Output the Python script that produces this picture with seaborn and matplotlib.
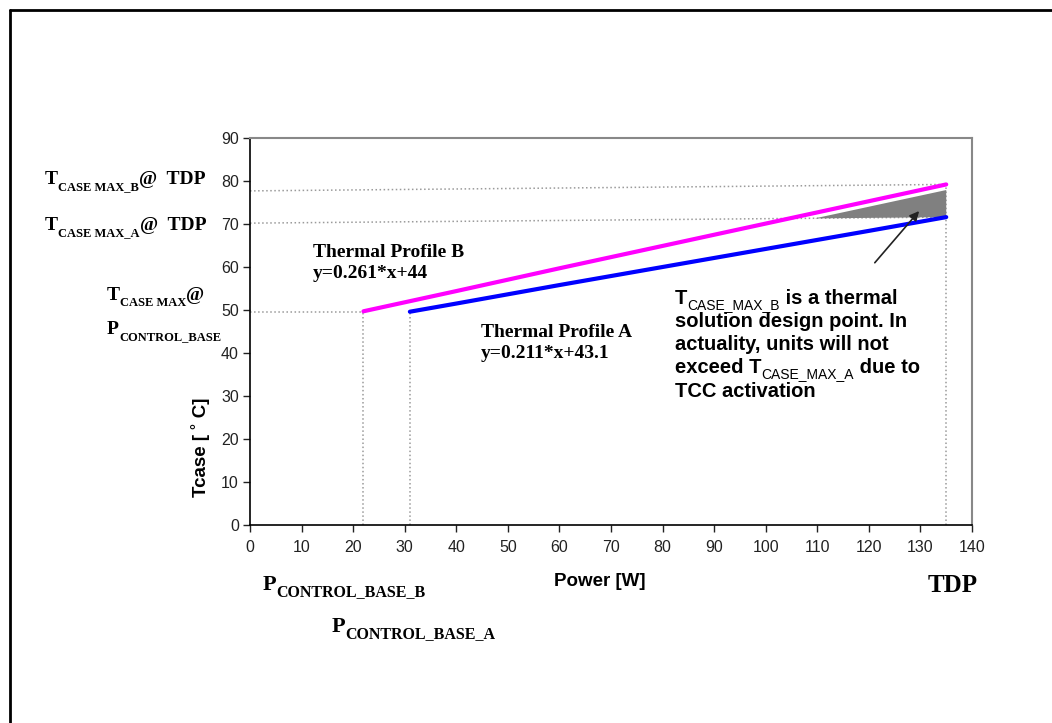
import numpy as np
import pandas as pd
import seaborn as sns
import matplotlib.pyplot as plt
from matplotlib.lines import Line2D

power_b = [22, 40, 60, 80, 100, 120, 135]
tcase_b = [49.7, 54.4, 59.7, 64.9, 70.1, 75.3, 79.2]
power_a = [31, 40, 60, 80, 100, 120, 135]
tcase_a = [49.6, 51.5, 55.8, 60.0, 64.2, 68.4, 71.6]

x_ticks = list(range(0, 141, 10))
y_ticks = list(range(0, 91, 10))

tdp = 135
p_base_b = 22
p_base_a = 31
t_base = 49.6
tmax_b_line = ([0, 135], [77.7, 79.2])
tmax_a_line = ([0, 135], [70.2, 71.6])
shade_x = [109.5, 135, 135]
shade_y = [71.3, 77.9, 71.6]

sns.set_theme(style='white')
plt.rcParams['font.family'] = ['Liberation Sans', 'DejaVu Sans']
plt.rcParams['text.color'] = 'black'

W, H = 1052, 723
fig = plt.figure(figsize=(W / 100, H / 100), dpi=100)
ax = fig.add_axes([250 / W, 1 - 525 / H, 722 / W, 387 / H])


def px(x, y):
    return x / W, 1 - y / H


df = pd.concat([
    pd.DataFrame({'Power': power_b, 'Tcase': tcase_b, 'profile': 'B'}),
    pd.DataFrame({'Power': power_a, 'Tcase': tcase_a, 'profile': 'A'}),
])
sns.lineplot(data=df, x='Power', y='Tcase', hue='profile',
             palette={'B': '#ff00ff', 'A': '#0000ff'}, linewidth=3,
             legend=False, ax=ax, zorder=4)

dot = dict(color='#9a9a9a', linestyle=':', linewidth=1.1, zorder=2)
ax.plot(*tmax_b_line, **dot)
ax.plot(*tmax_a_line, **dot)
ax.plot([0, p_base_b], [t_base, t_base], **dot)
ax.plot([p_base_b, p_base_b], [0, t_base], **dot)
ax.plot([p_base_a, p_base_a], [0, t_base], **dot)
ax.plot([tdp, tdp], [0, tcase_b[-1]], **dot)

ax.fill(shade_x, shade_y, color='#808080', zorder=3, lw=0)

ax.annotate('', xy=(130.1, 73.5), xytext=(120.8, 60.5),
            arrowprops=dict(arrowstyle='-|>', color='#222222', lw=1.2,
                            mutation_scale=14), zorder=5)

ax.set_xlim(0, 140)
ax.set_ylim(0, 90)
ax.set_xticks(x_ticks)
ax.set_yticks(y_ticks)
ax.set_xlabel('')
ax.set_ylabel('')
ax.tick_params(axis='both', direction='out', length=5, width=1,
               labelsize=11.5, colors='#222222', bottom=True, left=True)
ax.tick_params(axis='x', pad=6)
ax.tick_params(axis='y', pad=3)
for side in ['left', 'bottom']:
    ax.spines[side].set_color('black')
    ax.spines[side].set_linewidth(1.2)
for side in ['top', 'right']:
    ax.spines[side].set_color('#888888')
    ax.spines[side].set_linewidth(1.5)

fig.text(*px(600, 581), 'Power [W]', ha='center', va='center',
         fontsize=13.5, weight='bold')
fig.text(*px(200, 447), 'Tcase [ ˚ C]', ha='center', va='center',
         fontsize=13.5, weight='bold', rotation=90)


def chain(x, y, parts, family):
    # parts: (text, size, drop in points, weight)
    first = ax.text(*px(x, y), parts[0][0], transform=fig.transFigure,
                    fontsize=parts[0][1], family=family, weight=parts[0][3],
                    va='baseline', ha='left', clip_on=False)
    prev = first
    for s, size, dy, w in parts[1:]:
        prev = ax.annotate(s, xy=(1, 0), xycoords=(prev, first),
                           xytext=(0, -dy), textcoords='offset points',
                           fontsize=size, family=family, weight=w,
                           va='bottom', ha='left', annotation_clip=False)
    return first


serif = ['Liberation Serif', 'DejaVu Serif']
sans = ['Liberation Sans', 'DejaVu Sans']

chain(45, 184, [('T', 14, 0, 'bold'), ('CASE MAX_B', 9, 3.5, 'bold'),
                ('@  TDP', 14, 0, 'bold')], serif)
chain(45, 230, [('T', 14, 0, 'bold'), ('CASE MAX_A', 9, 3.5, 'bold'),
                ('@  TDP', 14, 0, 'bold')], serif)
chain(107, 300, [('T', 14, 0, 'bold'), ('CASE MAX', 9, 3.5, 'bold'),
                 ('@', 14, 0, 'bold')], serif)
chain(107, 334, [('P', 14, 0, 'bold'), ('CONTROL_BASE', 9, 3.5, 'bold')], serif)

chain(263, 590, [('P', 16, 0, 'bold'), ('CONTROL_BASE_B', 11.5, 3.5, 'bold')], serif)
chain(332, 632, [('P', 16, 0, 'bold'), ('CONTROL_BASE_A', 11.5, 3.5, 'bold')], serif)

fig.text(*px(928, 592), 'TDP', fontsize=18, weight='bold', family=serif,
         va='baseline')

for txt, yy in [('Thermal Profile B', 257), ('y=0.261*x+44', 278)]:
    fig.text(*px(313, yy), txt, fontsize=14, weight='bold', family=serif,
             va='baseline')
for txt, yy in [('Thermal Profile A', 337), ('y=0.211*x+43.1', 358)]:
    fig.text(*px(481, yy), txt, fontsize=14, weight='bold', family=serif,
             va='baseline')

note_size = 14.5
chain(675, 304, [('T', note_size, 0, 'bold'), ('CASE_MAX_B', 10, 3, 'normal'),
                 (' is a thermal', note_size, 0, 'bold')], sans)
fig.text(*px(675, 327), 'solution design point. In', fontsize=note_size,
         weight='bold', va='baseline')
fig.text(*px(675, 350), 'actuality, units will not', fontsize=note_size,
         weight='bold', va='baseline')
chain(675, 373, [('exceed T', note_size, 0, 'bold'), ('CASE_MAX_A', 10, 3, 'normal'),
                 (' due to', note_size, 0, 'bold')], sans)
fig.text(*px(675, 397), 'TCC activation', fontsize=note_size,
         weight='bold', va='baseline')

# page frame (top and left edges visible)
fig.add_artist(Line2D([10 / W, 1], [1 - 10 / H, 1 - 10 / H],
                      transform=fig.transFigure, color='black', lw=2))
fig.add_artist(Line2D([10 / W, 10 / W], [0, 1 - 10 / H],
                      transform=fig.transFigure, color='black', lw=2))

fig.savefig('out.png', dpi=100)
